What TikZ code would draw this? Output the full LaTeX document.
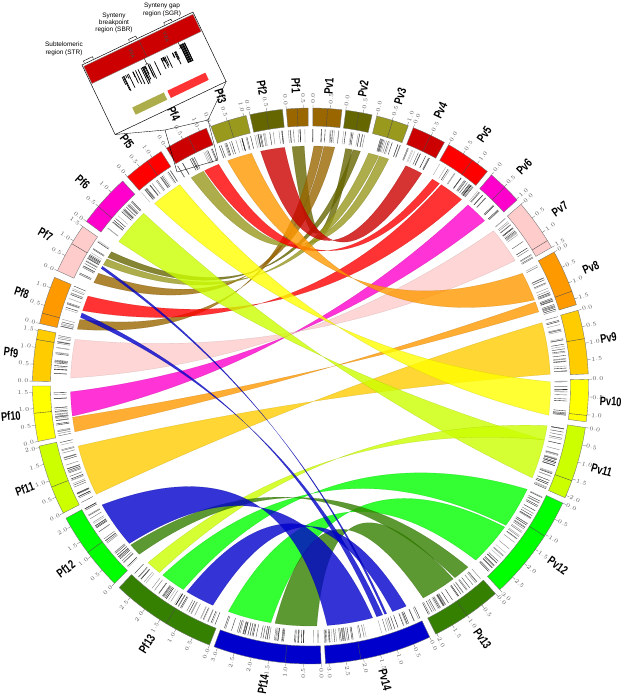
\documentclass[tikz,border=0pt]{standalone}
\usepackage{fontspec}
\setmainfont{Liberation Sans}
\newfontfamily\namefont[FakeStretch=0.75]{Liberation Sans}
\usetikzlibrary{calc}

% chromosome colours (same scheme for Pf and Pv)
\definecolor{chr1}{RGB}{153,102,0}
\definecolor{chr2}{RGB}{102,102,0}
\definecolor{chr3}{RGB}{153,153,30}
\definecolor{chr4}{RGB}{204,0,0}
\definecolor{chr5}{RGB}{255,0,0}
\definecolor{chr6}{RGB}{255,0,204}
\definecolor{chr7}{RGB}{255,204,204}
\definecolor{chr8}{RGB}{255,153,0}
\definecolor{chr9}{RGB}{255,204,0}
\definecolor{chr10}{RGB}{255,255,0}
\definecolor{chr11}{RGB}{204,255,0}
\definecolor{chr12}{RGB}{0,255,0}
\definecolor{chr13}{RGB}{53,128,0}
\definecolor{chr14}{RGB}{0,0,204}

\newcommand{\lr}{240}      % radius where links end
\newcommand{\bk}{0.0933}   % bezier pull towards centre

% ideogram: name, start angle, end angle, length (Mb), colour, band position
\newcommand{\chrom}[6]{%
  \pgfmathtruncatemacro\nbars{#4*15}
  \foreach \i in {1,...,\nbars}{
    \pgfmathsetmacro\gang{#2+(#3-#2)*rnd}
    \pgfmathtruncatemacro\gshade{30+70*rnd}
    \draw[genebar, draw=black!\gshade] (\gang:244) -- (\gang:257);
  }
  \filldraw[ideo, fill=#5] (#2:260) arc[start angle=#2, end angle=#3, radius=260]
    -- (#3:278) arc[start angle=#3, end angle=#2, radius=278] -- cycle;
  \pgfmathsetmacro\bandang{#2+(#3-#2)*#6}
  \draw[black!70, line width=0.3pt] (\bandang:260) -- (\bandang:278);
  \pgfmathtruncatemacro\nticks{floor(#4*2+0.01)}
  \foreach \k in {0,...,\nticks}{
    \pgfmathsetmacro\tang{#2+(#3-#2)*\k*0.5/#4}
    \pgfmathsetmacro\tval{\k*0.5}
    \pgfmathtruncatemacro\rside{cos(\tang)>=0 ? 1 : 0}
    \draw[black!60, line width=0.25pt] (\tang:278) -- (\tang:281.5);
    \ifnum\rside=1
      \node[ticklab, anchor=west, rotate=\tang] (#1-t\k) at (\tang:282)
        {\pgfmathprintnumber[fixed,precision=1,fixed zerofill]{\tval}};
    \else
      \node[ticklab, anchor=east, rotate=\tang+180] (#1-t\k) at (\tang:282)
        {\pgfmathprintnumber[fixed,precision=1,fixed zerofill]{\tval}};
    \fi
  }
  \pgfmathsetmacro\midang{(#2+#3)/2}
  \pgfmathsetmacro\namer{300+6*abs(sin(2*\midang))}
  \pgfmathtruncatemacro\nside{cos(\midang)>=0 ? 1 : 0}
  \ifnum\nside=1
    \node[chrname, rotate=\midang] (#1) at (\midang:\namer) {#1};
  \else
    \node[chrname, rotate=\midang+180] (#1) at (\midang:\namer) {#1};
  \fi
}

% link: colour, Pf arc (from, to), Pv arc (from, to)
\newcommand{\rib}[5]{%
  \filldraw[ribbon, fill=#1, draw=#1!75!black]
    (#2:\lr) arc[start angle=#2, end angle=#3, radius=\lr]
    .. controls ({\lr*(cos(#3)/3+\bk*(cos(#3)+cos(#4)))}, {\lr*(sin(#3)/3+\bk*(sin(#3)+sin(#4)))})
       and ({\lr*(cos(#4)/3+\bk*(cos(#3)+cos(#4)))}, {\lr*(sin(#4)/3+\bk*(sin(#3)+sin(#4)))})
    .. (#4:\lr) arc[start angle=#4, end angle=#5, radius=\lr]
    .. controls ({\lr*(cos(#5)/3+\bk*(cos(#5)+cos(#2)))}, {\lr*(sin(#5)/3+\bk*(sin(#5)+sin(#2)))})
       and ({\lr*(cos(#2)/3+\bk*(cos(#5)+cos(#2)))}, {\lr*(sin(#2)/3+\bk*(sin(#5)+sin(#2)))})
    .. (#2:\lr) -- cycle;
}

\begin{document}
\begin{tikzpicture}[x=0.03cm, y=0.03cm,
    ideo/.style={draw=black!55, line width=0.3pt},
    ribbon/.style={fill opacity=0.8, draw opacity=0.5, line width=0.25pt},
    genebar/.style={line width=0.3pt},
    ticklab/.style={font=\fontsize{3.9}{4.5}\selectfont, text=black!65, inner sep=0pt},
    chrname/.style={font=\namefont\bfseries\fontsize{10.5}{11}\selectfont, inner sep=0pt},
    callout/.style={font=\fontsize{5.5}{6.3}\selectfont, align=center, inner sep=0pt},
    frameline/.style={draw=black, line width=0.4pt}
  ]
  \useasboundingbox (-310.5,-310) rectangle (317.5,386);
  \pgfmathsetseed{4711}

  % --- links (coloured by the P. vivax chromosome) ---
  \rib{chr2}{-265.6}{-268.5}{80.0}{81.6}
  \rib{chr2}{-212.4}{-214.0}{78.0}{79.8}
  \rib{chr1}{-205.5}{-208.0}{84.2}{86.8}
  \rib{chr1}{-193.7}{-196.1}{87.0}{89.2}
  \rib{chr3}{-210.3}{-212.0}{73.5}{76.0}
  \rib{chr3}{-240.2}{-243.5}{71.0}{73.3}
  \rib{chr4}{-258.0}{-263.8}{62.4}{66.6}
  \rib{chr5}{-243.8}{-247.5}{57.5}{59.5}
  \rib{chr5}{-198.3}{-202.0}{51.0}{57.0}
  \rib{chr6}{-172.8}{-178.6}{43.5}{49.0}
  \rib{chr7}{-181.9}{-191.2}{31.5}{40.3}
  \rib{chr8}{-249.8}{-255.8}{21.0}{28.0}
  \rib{chr8}{-169.0}{-172.5}{18.0}{20.5}
  \rib{chr9}{-153.2}{-165.5}{2.8}{15.3}
  \rib{chr10}{-229.5}{-237.0}{-7.0}{1.0}
  \rib{chr11}{-217.0}{-226.0}{-22.5}{-13.0}
  \rib{chr11}{-129.0}{-132.6}{-13.0}{-9.5}
  \rib{chr12}{-122.0}{-128.0}{-35.5}{-25.5}
  \rib{chr12}{-99.5}{-110.0}{-46.5}{-36.0}
  \rib{chr13}{-135.5}{-138.5}{-53.0}{-49.0}
  \rib{chr13}{-88.5}{-98.5}{-62.0}{-53.5}
  \rib{chr14}{-139.0}{-150.3}{-86.0}{-75.0}
  \rib{chr14}{-114.0}{-121.0}{-70.0}{-66.5}
  \rib{chr14}{-209.3}{-209.9}{-72.0}{-71.5}
  \rib{chr14}{-196.6}{-197.7}{-74.0}{-72.5}

  % --- ideograms ---
  \chrom{Pv1}{89.5}{83.5}{0.83}{chr1}{0.5}
  \chrom{Pv2}{82.7}{77.2}{0.76}{chr2}{0.5}
  \chrom{Pv3}{76.2}{69.4}{1.03}{chr3}{0.5}
  \chrom{Pv4}{68.3}{61.2}{0.88}{chr4}{0.55}
  \chrom{Pv5}{60.2}{50.5}{1.37}{chr5}{0.6}
  \chrom{Pv6}{49.4}{42.0}{1.03}{chr6}{0.5}
  \chrom{Pv7}{40.8}{29.9}{1.50}{chr7}{0.85}
  \chrom{Pv8}{28.8}{17.0}{1.68}{chr8}{0.75}
  \chrom{Pv9}{15.8}{2.5}{1.92}{chr9}{0.45}
  \chrom{Pv10}{1.4}{-7.4}{1.20}{chr10}{0.85}
  \chrom{Pv11}{-8.6}{-23.7}{2.07}{chr11}{0.75}
  \chrom{Pv12}{-24.9}{-47.1}{3.00}{chr12}{0.35}
  \chrom{Pv13}{-48.3}{-63.2}{2.03}{chr13}{0.5}
  \chrom{Pv14}{-64.6}{-86.9}{3.10}{chr14}{0.67}
  \chrom{Pf14}{-87.8}{-110.3}{3.10}{chr14}{0.33}
  \chrom{Pf13}{-111.3}{-133.5}{2.90}{chr13}{0.45}
  \chrom{Pf12}{-134.8}{-151.6}{2.27}{chr12}{0.5}
  \chrom{Pf11}{-152.8}{-167.5}{2.04}{chr11}{0.4}
  \chrom{Pf10}{-168.5}{-180.0}{1.69}{chr10}{0.51}
  \chrom{Pf9}{-181.0}{-191.8}{1.54}{chr9}{0.8}
  \chrom{Pf8}{-193.0}{-203.0}{1.30}{chr8}{0.22}
  \chrom{Pf7}{-204.5}{-215.0}{1.50}{chr7}{0.6}
  \chrom{Pf6}{-216.3}{-227.5}{1.42}{chr6}{0.35}
  \chrom{Pf5}{-228.8}{-237.5}{1.34}{chr5}{0.6}
  \chrom{Pf4}{-238.8}{-248.0}{1.20}{chr4}{0.55}
  \chrom{Pf3}{-249.0}{-256.6}{1.07}{chr3}{0.5}
  \chrom{Pf2}{-257.4}{-264.2}{0.95}{chr2}{0.5}
  \chrom{Pf1}{-265.0}{-269.5}{0.64}{chr1}{0.5}

  % --- zoomed view of Pf4 (pixel frame) ---
  \begin{scope}[shift={(-310.5,386)}, yscale=-1]
    \coordinate (boxOL) at (165,130);
    \coordinate (boxOR) at (208,120);
    \coordinate (boxIR) at (218,160);
    \coordinate (boxIL) at (177,172);
    \draw[line width=0.3pt] (boxOL) -- (boxOR) -- (boxIR) -- (boxIL) -- cycle;
    \node[callout] (strlab) at (64,49) {Subtelomeric\\region (STR)};
    \node[callout] (sbrlab) at (114,23) {Synteny\\breakpoint\\region (SBR)};
    \node[callout] (sgrlab) at (162,10) {Synteny gap\\region (SGR)};
  \end{scope}

  \begin{scope}[shift={(-228.5,321)}, rotate=25.5]
    \filldraw[frameline, fill=white] (0,0) rectangle (123,-77);
    \coordinate (insetBL) at (0,-77);
    \coordinate (insetBR) at (123,-77);
    \filldraw[fill=chr4, draw=black!50, line width=0.3pt] (1,-2) rectangle (122,-21);
    \draw[black!70, line width=0.3pt] (62,-2) -- (62,-21);
    \node[font=\fontsize{4.5}{5}\selectfont, text=black!70, rotate=-70] (varA) at (50,-11) {V8A};
    \node[font=\fontsize{4.5}{5}\selectfont, text=black!70, rotate=-70] (varB) at (88,-11) {V8A};
    % region brackets
    \foreach \a/\b in {3/13, 53/61, 92/100}
      \draw[line width=0.35pt] (\a,1) -- (\a,3) -- (\b,3) -- (\b,1);
    % marker stems
    \foreach \u in {59, 96.5}{
      \draw[line width=0.35pt] (\u,-21) -- (\u,-27);
      \draw[line width=0.35pt] (\u-1.5,-27) -- (\u+1.5,-27);
    }
    % genes
    \foreach \i in {1,...,34}{
      \pgfmathsetmacro\gu{30+62*rnd}
      \pgfmathsetmacro\gl{-30-16*rnd}
      \draw[line width=0.6pt] (\gu,-28) -- (\gu,\gl);
    }
    \foreach \i in {1,...,8}{
      \pgfmathsetmacro\gu{97+7*rnd}
      \draw[line width=0.7pt] (\gu,-24) -- (\gu,-44);
    }
    \fill[chr3!80] (27,-60) rectangle (62,-68);
    \fill[chr5!80] (66,-60) rectangle (108,-68);
  \end{scope}
  \draw[line width=0.3pt] (insetBL) -- (boxOL);
  \draw[line width=0.3pt] (insetBR) -- (boxOR);
\end{tikzpicture}
\end{document}
